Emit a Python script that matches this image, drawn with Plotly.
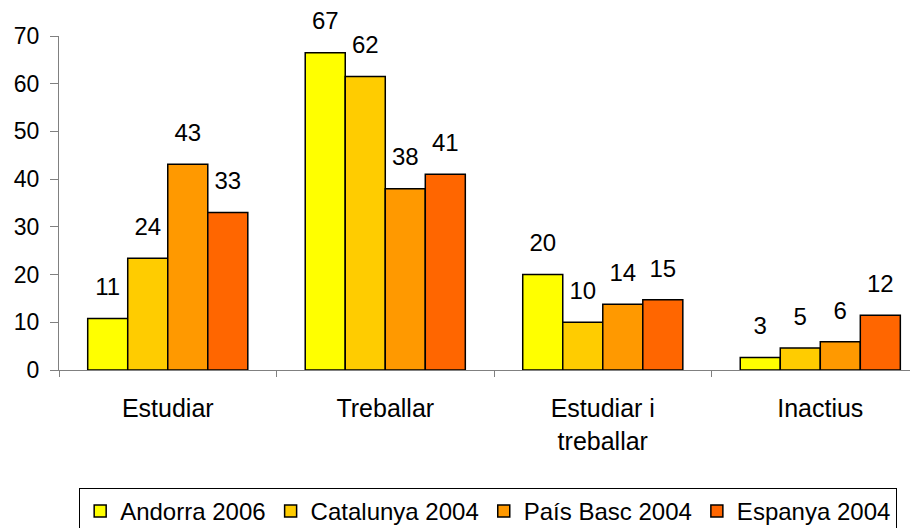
import plotly.graph_objects as go

# ------------------------------------------------------------
# Dades
# ------------------------------------------------------------
categories = ["Estudiar", "Treballar", "Estudiar i<br>treballar", "Inactius"]

andorra_2006 = [10.8, 66.5, 20.0, 2.6]
catalunya_2004 = [23.4, 61.5, 10.0, 4.6]
pais_basc_2004 = [43.1, 38.0, 13.8, 5.9]
espanya_2004 = [33.0, 41.0, 14.7, 11.5]

labels_andorra = ["11", "67", "20", "3"]
labels_catalunya = ["24", "62", "10", "5"]
labels_pais_basc = ["43", "38", "14", "6"]
labels_espanya = ["33", "41", "15", "12"]

series = [
    ("Andorra 2006", andorra_2006, labels_andorra, "#FFFF00"),
    ("Catalunya 2004", catalunya_2004, labels_catalunya, "#FFCC00"),
    ("País Basc 2004", pais_basc_2004, labels_pais_basc, "#FF9900"),
    ("Espanya 2004", espanya_2004, labels_espanya, "#FF6600"),
]

FONT = "Liberation Sans, Arial, sans-serif"

fig = go.Figure()

for i, (name, vals, labs, color) in enumerate(series):
    fig.add_trace(go.Bar(
        x=categories,
        y=vals,
        name=name,
        offsetgroup=str(i),
        marker=dict(color=color, line=dict(color="black", width=1.5)),
    ))

# etiquetes de valor: marcador invisible per separar el text de la barra
for i, (name, vals, labs, color) in enumerate(series):
    fig.add_trace(go.Scatter(
        x=categories,
        y=vals,
        mode="markers+text",
        text=labs,
        textposition="top center",
        textfont=dict(size=24, color="black", family=FONT),
        marker=dict(size=26, opacity=0),
        offsetgroup=str(i),
        orientation="v",
        showlegend=False,
        hoverinfo="skip",
        cliponaxis=False,
    ))

# la pàgina té 8px de marge al body -> marges compensats
fig.update_layout(
    width=918,
    height=528,
    barmode="group",
    scattermode="group",
    bargap=0.264,
    bargroupgap=0,
    scattergap=0.264,
    paper_bgcolor="white",
    plot_bgcolor="white",
    font=dict(family=FONT, size=24, color="black"),
    margin=dict(l=51, r=0, t=28, b=166),
    legend=dict(
        orientation="h",
        x=0.495,
        xanchor="center",
        y=-0.353,
        yanchor="top",
        bordercolor="black",
        borderwidth=1,
        font=dict(size=24, family=FONT),
        itemwidth=30,
        tracegroupgap=0,
        traceorder="normal",
    ),
)

fig.update_yaxes(
    range=[0, 70],
    dtick=10,
    showgrid=False,
    zeroline=False,
    showline=True,
    linecolor="#808080",
    linewidth=1,
    ticks="outside",
    ticklen=8,
    tickcolor="#808080",
    tickfont=dict(size=23),
    ticklabelstandoff=6,
    automargin=False,
)

fig.update_xaxes(
    range=[-0.5, 3.486],
    showgrid=False,
    showline=True,
    linecolor="#808080",
    linewidth=1,
    ticks="outside",
    tickson="boundaries",
    ticklen=6,
    tickcolor="#808080",
    tickfont=dict(size=25),
    ticklabelstandoff=16,
    automargin=False,
)

fig.write_html("out.html")
